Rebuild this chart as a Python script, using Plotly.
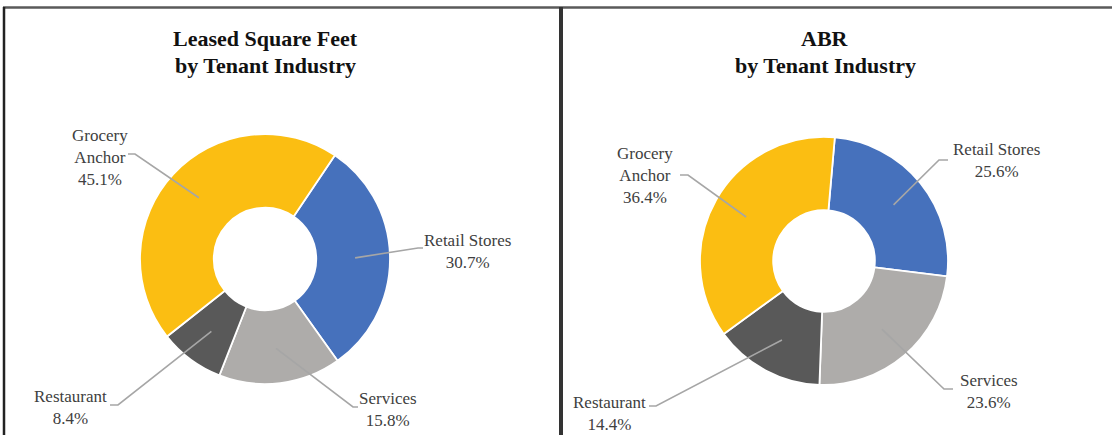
import math
import plotly.graph_objects as go

W, H = 1112, 435

# ---- data ----
categories = ["Retail Stores", "Services", "Restaurant", "Grocery Anchor"]
label_names = ["Retail Stores", "Services", "Restaurant", "Grocery<br>Anchor"]
sqft_values = [30.7, 15.8, 8.4, 45.1]
abr_values = [25.6, 23.6, 14.4, 36.4]
title_line1 = ["Leased Square Feet", "ABR"]
title_line2 = ["by Tenant Industry", "by Tenant Industry"]

colors = ["#4671BC", "#AEACAA", "#595959", "#FBBE12"]

# ---- layout (pixel geometry) ----
panels = [
    dict(values=sqft_values, cx=265, cy=259, r=125, rotation=34, title_x=265,
         label_xy=[(467, 251), (388, 409), (70, 407), (100, 157)],
         elbow=[(418, 248), (353, 407), (118, 405), (135, 154)],
         end=[(423, 248), (358, 407), (110, 405), (128, 154)]),
    dict(values=abr_values, cx=824, cy=261, r=124, rotation=5, title_x=825,
         label_xy=[(996, 161), (989, 391), (609, 413), (645, 175)],
         elbow=[(939, 160), (944, 389), (656, 406), (688, 175)],
         end=[(948, 160), (953, 389), (649, 406), (680, 175)]),
]
HOLE = 0.41
TITLE_Y = (39, 65)


def px(x):
    return x / W


def py(y):
    return 1 - y / H


fig = go.Figure()
shapes = []
annotations = []

for idx, p in enumerate(panels):
    cx, cy, r = p["cx"], p["cy"], p["r"]
    fig.add_trace(go.Pie(
        labels=categories, values=p["values"], sort=False, direction="clockwise",
        rotation=p["rotation"], hole=HOLE, textinfo="none", showlegend=False,
        marker=dict(colors=colors, line=dict(color="white", width=1.8)),
        domain=dict(x=[px(cx - r), px(cx + r)], y=[py(cy + r), py(cy - r)]),
        hoverinfo="label+percent",
    ))
    total = sum(p["values"])
    cum = 0.0
    rr = r * (1 + HOLE) / 2 + 2
    for i, v in enumerate(p["values"]):
        mid = p["rotation"] + (cum + v / 2) / total * 360
        cum += v
        a = math.radians(mid)
        sx, sy = cx + rr * math.sin(a), cy - rr * math.cos(a)
        ex, ey = p["elbow"][i]
        fx, fy = p["end"][i]
        shapes.append(dict(type="path", xref="paper", yref="paper",
                           path=f"M {px(sx)},{py(sy)} L {px(ex)},{py(ey)} L {px(fx)},{py(fy)}",
                           line=dict(color="#A6A6A6", width=1.6)))
        lx, ly = p["label_xy"][i]
        annotations.append(dict(
            x=px(lx), y=py(ly), xref="paper", yref="paper", showarrow=False,
            text=f"{label_names[i]}<br>{v:.1f}%", align="center",
            xanchor="center", yanchor="middle",
            font=dict(family="Liberation Serif", size=17, color="#404040")))

    for line_text, ty in zip((title_line1[idx], title_line2[idx]), TITLE_Y):
        annotations.append(dict(
            x=px(p["title_x"]), y=py(ty), xref="paper", yref="paper", showarrow=False,
            text=f"<b>{line_text}</b>", align="center", xanchor="center", yanchor="middle",
            font=dict(family="Liberation Serif", size=22, color="#111111")))

# panel borders
shapes += [
    dict(type="line", xref="paper", yref="paper", x0=px(3), x1=1, y0=py(7.5), y1=py(7.5),
         line=dict(color="#5A5A5A", width=2.5)),
    dict(type="line", xref="paper", yref="paper", x0=px(4), x1=px(4), y0=py(7), y1=0,
         line=dict(color="#222222", width=2.5)),
    dict(type="line", xref="paper", yref="paper", x0=px(561), x1=px(561), y0=py(7), y1=0,
         line=dict(color="#333333", width=4)),
]

fig.update_layout(
    width=W, height=H, autosize=False,
    margin=dict(l=0, r=0, t=0, b=0),
    paper_bgcolor="white", plot_bgcolor="white",
    shapes=shapes, annotations=annotations,
)

fig.write_html("out.html", config={"displayModeBar": False},
               post_script="document.body.style.margin='0';document.body.style.overflow='hidden';")
